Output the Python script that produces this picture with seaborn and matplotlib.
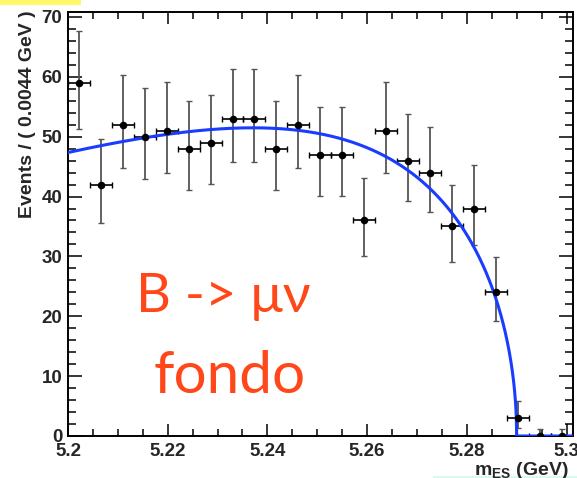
import math
import numpy as np
import pandas as pd
import matplotlib
matplotlib.use("Agg")
import matplotlib.pyplot as plt
from matplotlib.patches import Rectangle
from matplotlib.ticker import MultipleLocator
import seaborn as sns

# ---------------- data ----------------
mass_centers = [5.2022, 5.2066, 5.2110, 5.2154, 5.2198, 5.2242, 5.2286, 5.2330,
                5.2374, 5.2418, 5.2462, 5.2506, 5.2550, 5.2594, 5.2638, 5.2682,
                5.2726, 5.2770, 5.2814, 5.2858, 5.2902, 5.2946, 5.2990]
events = [59, 42, 52, 50, 51, 48, 49, 53, 53, 48, 52, 47, 47, 36, 51, 46,
          44, 35, 38, 24, 3, 0, 0]
bin_width = 0.0044
x_ticks = [5.2, 5.22, 5.24, 5.26, 5.28, 5.3]
x_tick_labels = ["5.2", "5.22", "5.24", "5.26", "5.28", "5.3"]
y_ticks = [0, 10, 20, 30, 40, 50, 60, 70]

# ARGUS background fit parameters
argus_m0 = 5.29
argus_c = -24.6
argus_norm = 113.7

# ---------------- helpers ----------------
def poisson_cdf(n, mu):
    s, term = 0.0, math.exp(-mu)
    for k in range(n + 1):
        if k > 0:
            term *= mu / k
        s += term
    return s

def garwood(n, alpha=0.158655):
    if n == 0:
        return 0.0, -math.log(1 - 0.6827)
    lo, hi = 0.0, n + 20 * math.sqrt(n) + 10
    for _ in range(100):
        mid = 0.5 * (lo + hi)
        if poisson_cdf(n, mid) > alpha:
            lo = mid
        else:
            hi = mid
    up = 0.5 * (lo + hi)
    lo, hi = 0.0, float(n)
    for _ in range(100):
        mid = 0.5 * (lo + hi)
        if 1 - poisson_cdf(n - 1, mid) < alpha:
            lo = mid
        else:
            hi = mid
    low = 0.5 * (lo + hi)
    return n - low, up - n

def argus(m):
    u = 1 - (m / argus_m0) ** 2
    return np.where(u > 0, argus_norm * m * np.sqrt(np.clip(u, 0, None)) * np.exp(argus_c * u), 0.0)

errs = np.array([garwood(n) for n in events])
df = pd.DataFrame({"m": mass_centers, "n": events})
m_grid = np.concatenate([np.linspace(5.2, argus_m0, 1500), [argus_m0, 5.2 + 23 * bin_width]])
curve = pd.DataFrame({"m": m_grid, "f": argus(m_grid)})

# ---------------- style ----------------
sns.set_style("ticks")
plt.rcParams["font.family"] = ["Liberation Sans", "DejaVu Sans"]
plt.rcParams["mathtext.fontset"] = "custom"
plt.rcParams["mathtext.bf"] = "Liberation Sans:bold"
plt.rcParams["mathtext.rm"] = "Liberation Sans:bold"
plt.rcParams["mathtext.it"] = "Liberation Sans:bold"
plt.rcParams["mathtext.default"] = "bf"

W, H = 577, 478
fig = plt.figure(figsize=(W / 100, H / 100), dpi=100)
fig.patch.set_facecolor("white")
ax = fig.add_axes([68 / W, (H - 436) / H, (572.5 - 68) / W, (436 - 12) / H])

ax.errorbar(df["m"], df["n"], yerr=[errs[:, 0], errs[:, 1]], fmt="none",
            ecolor="#555555", elinewidth=1.3, capsize=2.2, capthick=1.0, zorder=2)
ax.errorbar(df["m"], df["n"], xerr=bin_width / 2, fmt="none",
            ecolor="black", elinewidth=1.2, capsize=2.2, capthick=1.0, zorder=2)
sns.lineplot(data=curve, x="m", y="f", ax=ax, color="#1a3cff", linewidth=2.2,
             sort=False, zorder=3)
sns.scatterplot(data=df, x="m", y="n", ax=ax, color="black", s=30,
                edgecolor="black", linewidth=0, zorder=4)

ax.set_xlim(5.2, 5.2 + 23 * bin_width)
ax.set_ylim(0, 70.83)
ax.set_xticks(x_ticks)
ax.set_xticklabels(x_tick_labels)
ax.set_yticks(y_ticks)
ax.xaxis.set_minor_locator(MultipleLocator(0.005))
ax.yaxis.set_minor_locator(MultipleLocator(2))
ax.tick_params(axis="both", which="both", direction="in", top=True, right=True,
               width=1.1, color="black")
ax.tick_params(axis="x", which="major", length=8.6, pad=5, labelsize=13.5)
ax.tick_params(axis="x", which="minor", length=5)
ax.tick_params(axis="y", which="major", length=10, pad=4, labelsize=13.5)
ax.tick_params(axis="y", which="minor", length=5.5)
for lab in ax.get_xticklabels() + ax.get_yticklabels():
    lab.set_fontweight("bold")
for sp in ax.spines.values():
    sp.set_linewidth(1.4)
    sp.set_color("black")
ax.set_xlabel("")
ax.set_ylabel("")

fig.text(28 / W, (H - 10) / H, "Events / ( 0.0044 GeV )", rotation=90,
         ha="center", va="top", fontsize=14, fontweight="bold")
fig.text(569 / W, (H - 475) / H, r"$m_{ES}$ (GeV)", ha="right", va="baseline",
         fontsize=14, fontweight="bold")

txt_font = ["Lato", "DejaVu Sans"]
fig.text(223 / W, (H - 312) / H, "B -> μν", ha="center", va="baseline",
         fontsize=39, color="#ff4719", family=txt_font)
fig.text(230 / W, (H - 393) / H, "fondo", ha="center", va="baseline",
         fontsize=42, color="#ff4719", family=txt_font)

# slide artifacts
fig.patches.append(Rectangle((0, (H - 5) / H), 81 / W, 5 / H, transform=fig.transFigure,
                             facecolor="#fff86a", edgecolor="none"))
fig.patches.append(Rectangle((433 / W, 0), (W - 433) / W, 2 / H, transform=fig.transFigure,
                             facecolor="#d8fbef", edgecolor="none"))

fig.savefig("out.png", dpi=100)
